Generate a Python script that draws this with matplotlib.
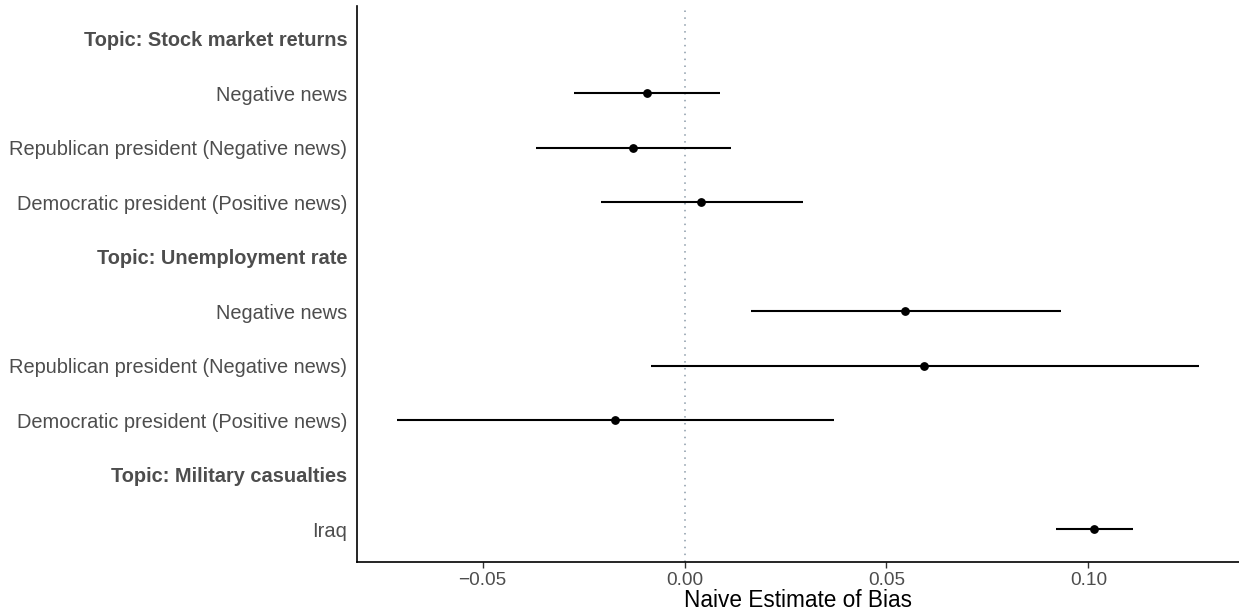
import numpy as np
import matplotlib
matplotlib.use('Agg')
from matplotlib import pyplot as plt

plt.rcParams['font.family'] = ['Liberation Sans', 'DejaVu Sans']

# rows from top to bottom; headers have no estimate
labels = ['Topic: Stock market returns',
          'Negative news',
          'Republican president (Negative news)',
          'Democratic president (Positive news)',
          'Topic: Unemployment rate',
          'Negative news',
          'Republican president (Negative news)',
          'Democratic president (Positive news)',
          'Topic: Military casualties',
          'Iraq']
is_header = [True, False, False, False, True, False, False, False, True, False]
estimate = [None, -0.0094, -0.0128, 0.0042, None, 0.0547, 0.0593, -0.0172, None, 0.1015]
ci_low = [None, -0.0273, -0.0367, -0.0207, None, 0.0165, -0.0084, -0.0712, None, 0.0921]
ci_high = [None, 0.0089, 0.0116, 0.0293, None, 0.0931, 0.1274, 0.0369, None, 0.1111]
xticks = [-0.05, 0.00, 0.05, 0.10]
xticklabels = ['\u22120.05', '0.00', '0.05', '0.10']

n = len(labels)
ypos = np.arange(n, 0, -1)

fig = plt.figure(figsize=(12.39, 6.15), dpi=100)
ax = fig.add_axes([357/1239, 1-562/615, 1-357/1239, (562-6)/615])

ax.axvline(0, color='#8a9aa8', linestyle=(0, (1, 3.5)), linewidth=1.1, zorder=1)

for y, e, lo, hi in zip(ypos, estimate, ci_low, ci_high):
    if e is None:
        continue
    ax.plot([lo, hi], [y, y], color='black', linewidth=1.5, solid_capstyle='butt', zorder=2)
    ax.plot(e, y, 'o', color='black', markersize=5.3, zorder=3)

ax.set_xlim(-0.0811, 0.1373)
ax.set_ylim(0.4, n + 0.6)
ax.set_yticks(ypos)
ax.set_yticklabels(labels)
for t, h in zip(ax.get_yticklabels(), is_header):
    if h:
        t.set_fontweight('bold')
ax.tick_params(axis='y', length=0, pad=7, labelsize=14.4, labelcolor='#4d4d4d')
ax.set_xticks(xticks)
ax.set_xticklabels(xticklabels)
ax.tick_params(axis='x', length=4, width=1, color='#333333', pad=3, labelsize=13.7, labelcolor='#4d4d4d')
ax.set_xlabel('Naive Estimate of Bias', fontsize=16.3, color='black', labelpad=0)

for s in ['top', 'right']:
    ax.spines[s].set_visible(False)
for s in ['left', 'bottom']:
    ax.spines[s].set_linewidth(1.2)
    ax.spines[s].set_color('black')

fig.savefig('out.png', dpi=100)
